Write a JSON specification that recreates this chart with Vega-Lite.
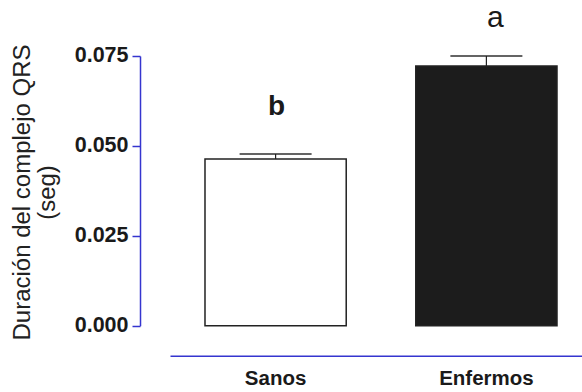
{
  "$schema": "https://vega.github.io/schema/vega-lite/v6.json",
  "autosize": "none",
  "width": 412,
  "height": 269.7,
  "padding": {"left": 170, "top": 56, "right": 0, "bottom": 66},
  "background": "white",
  "config": {"view": {"stroke": null}, "font": "Liberation Sans"},
  "data": {"values": [
    {"grupo": "Sanos", "media": 0.04636, "sup": 0.04775, "letra": "b", "ly": 0.0586},
    {"grupo": "Enfermos", "media": 0.07222, "sup": 0.0750, "letra": "a", "ly": 0.0831}
  ]},
  "encoding": {
    "x": {"field": "grupo", "type": "nominal", "sort": ["Sanos", "Enfermos"],
      "scale": {"range": [0, 422], "paddingInner": 0.33, "paddingOuter": 0.166},
      "axis": {"title": null, "offset": 30, "ticks": false, "labelPadding": 13, "labelAngle": 0,
        "labelFont": "Liberation Sans", "labelFontSize": 20.5, "labelFontWeight": "bold", "labelColor": "#1a1a1a",
        "domainColor": "#3535cf", "domainWidth": 1.5}}
  },
  "layer": [
    {
      "mark": {"type": "bar", "stroke": "#222222", "strokeWidth": 1.5},
      "encoding": {
        "y": {"field": "media", "type": "quantitative",
          "scale": {"domain": [0, 0.075], "nice": false, "zero": true},
          "axis": {"values": [0, 0.025, 0.05, 0.075], "format": ".3f", "grid": false, "offset": 30,
            "tickSize": 8, "tickColor": "#3535cf", "tickWidth": 1.5, "domainColor": "#3535cf", "domainWidth": 1.5,
            "labelPadding": 4, "labelFont": "Liberation Sans", "labelFontSize": 21.5, "labelFontWeight": "bold", "labelColor": "#1a1a1a",
            "title": ["Duración del complejo QRS", "(seg)"], "titleFont": "Liberation Sans", "titleFontSize": 24, "titleFontWeight": "normal",
            "titleColor": "#222222", "titleAngle": -90, "titleX": -118, "titleY": 136, "titleAlign": "center", "titleBaseline": "middle", "titleLineHeight": 26}},
        "fill": {"field": "grupo", "type": "nominal", "scale": {"domain": ["Sanos", "Enfermos"], "range": ["#ffffff", "#1c1c1c"]}, "legend": null}
      }
    },
    {
      "mark": {"type": "rule", "color": "#222222", "strokeWidth": 1.2},
      "encoding": {"y": {"field": "media", "type": "quantitative"}, "y2": {"field": "sup"}}
    },
    {
      "mark": {"type": "tick", "color": "#222222", "size": 72, "thickness": 2},
      "encoding": {"y": {"field": "sup", "type": "quantitative"}}
    },
    {
      "transform": [{"filter": "datum.letra == 'b'"}],
      "mark": {"type": "text", "font": "Liberation Sans", "fontSize": 28, "fontWeight": "bold", "color": "#1a1a1a", "baseline": "alphabetic", "dx": 1},
      "encoding": {"y": {"field": "ly", "type": "quantitative"}, "text": {"field": "letra"}}
    },
    {
      "transform": [{"filter": "datum.letra == 'a'"}],
      "mark": {"type": "text", "font": "Liberation Sans", "fontSize": 30, "fontWeight": "normal", "color": "#1a1a1a", "baseline": "alphabetic", "dx": 9},
      "encoding": {"y": {"field": "ly", "type": "quantitative"}, "text": {"field": "letra"}}
    }
  ]
}
